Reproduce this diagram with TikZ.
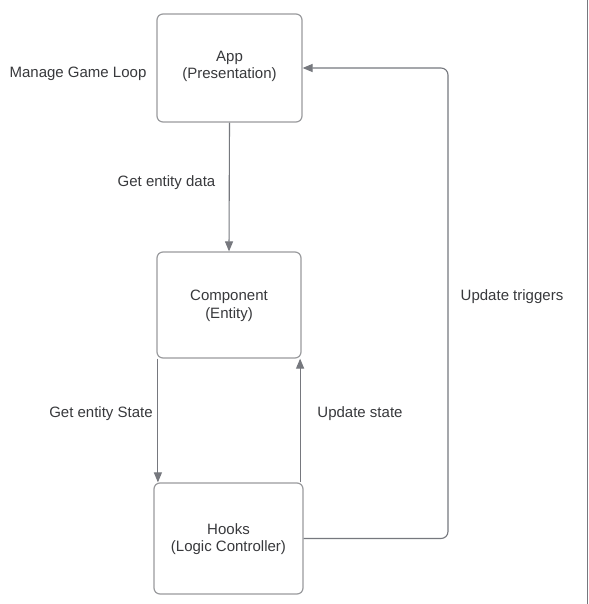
\documentclass[tikz,border=0pt]{standalone}
\usepackage{fontspec}
\setmainfont{Liberation Sans}
\usetikzlibrary{arrows.meta,positioning}
\definecolor{txt}{HTML}{38393C}
\definecolor{boxline}{HTML}{9A9B9E}
\definecolor{arrline}{HTML}{76787E}
\tikzset{
  box/.style={draw=boxline, line width=1.2pt, rounded corners=6pt},
  lbl/.style={text=txt, font=\fontsize{15}{17.5}\selectfont, inner sep=0pt, align=center},
  arr/.style={draw=arrline, line width=1.1pt, -{Triangle[length=10pt,width=8pt]}}
}
\begin{document}
\begin{tikzpicture}[x=1pt,y=-1pt]
\useasboundingbox (0,0) rectangle (588,604);
\fill[white] (0,0) rectangle (588,604);
\draw[arrline, line width=1.2pt] (587.4,0) -- (587.4,604);
\node[box, minimum width=145pt, minimum height=108pt] (app) at (229.5,68) {};
\node[box, minimum width=144pt, minimum height=106pt] (comp) at (229,305) {};
\node[box, minimum width=149pt, minimum height=111pt] (hooks) at (228.5,538.5) {};
\node[lbl] (appt) at (229.5,66.5) {App\\(Presentation)};
\node[lbl] (compt) at (229,306) {Component\\(Entity)};
\node[lbl] (hookst) at (228.5,539) {Hooks\\(Logic Controller)};
\coordinate (tr) at (448,68);
\node[lbl] (mgl) at (78,74) {Manage Game Loop};
\node[lbl] (ged) at (166.5,183) {Get entity data};
\node[lbl] (ut) at (512,297) {Update triggers};
\node[lbl] (ges) at (101,414) {Get entity State};
\node[lbl] (us) at (360,414) {Update state};
\draw[arr] (app.south) -- (comp.north);
\draw[arr] ([xshift=1.5pt]comp.south west) -- ([xshift=1.5pt]comp.south west |- hooks.north);
\draw[arr] ([xshift=-1.5pt]comp.south east |- hooks.north) -- ([xshift=-1.5pt]comp.south east);
\draw[arr, rounded corners=7pt] (hooks.east) -| (tr) -- (app.east);
\end{tikzpicture}
\end{document}
